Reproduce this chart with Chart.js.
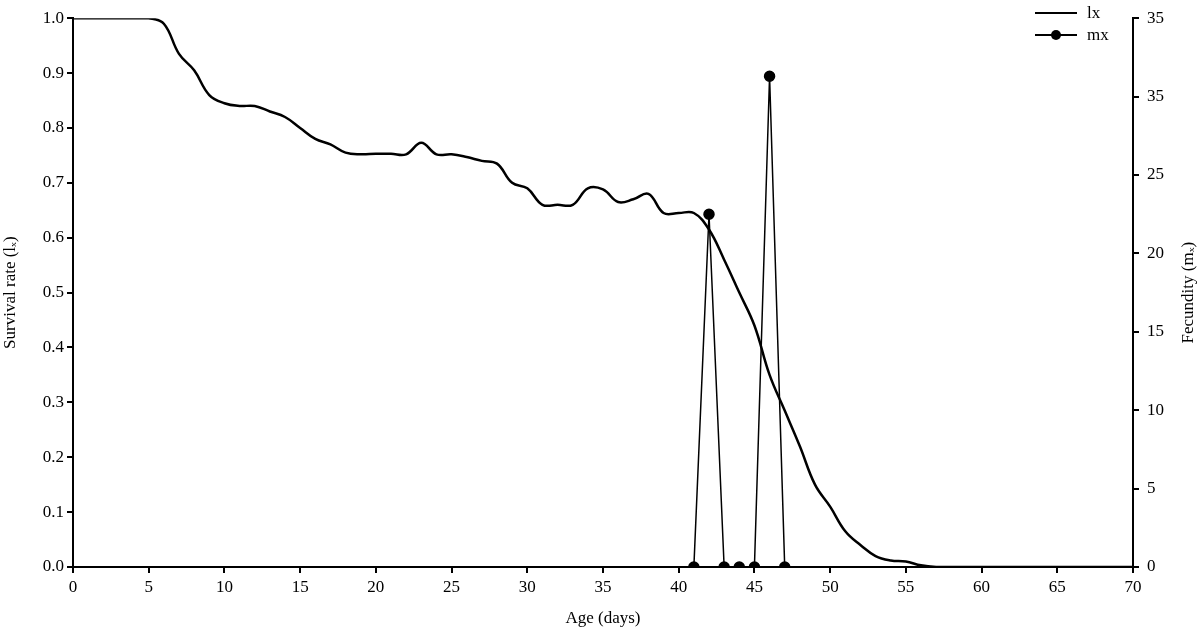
<!DOCTYPE html>
<html>
<head>
<meta charset="utf-8">
<script src="https://cdn.jsdelivr.net/npm/chart.js@4"></script>
<style>
  html, body { margin: 0; padding: 0; background: #fff; }
  #wrap { position: relative; width: 1200px; height: 633px; }
  .legend { position: absolute; left: 1035px; top: 2px; font: 17px "Liberation Serif", serif; color: #000; }
  .legend div { height: 22px; display: flex; align-items: center; }
  .legend span.l { display: inline-block; width: 42px; height: 2.5px; background: #000; margin-right: 10px; position: relative; }
  .legend span.l i { position: absolute; left: 16px; top: -4px; width: 10px; height: 10px; border-radius: 50%; background: #000; }
</style>
</head>
<body>
<div id="wrap">
  <canvas id="c" width="1200" height="633"></canvas>
  <div class="legend">
    <div><span class="l"></span>lx</div>
    <div><span class="l" style="height:1.5px"><i></i></span>mx</div>
  </div>
</div>
<script>
// ---------- data ----------
var ageDays = [];
for (var d = 0; d <= 70; d++) ageDays.push(d);

var lxValues = [
  1.0, 1.0, 1.0, 1.0, 1.0, 1.0, 0.99, 0.935, 0.905, 0.86,
  0.845, 0.84, 0.84, 0.83, 0.82, 0.80, 0.78, 0.77, 0.755, 0.752,
  0.753, 0.753, 0.752, 0.773, 0.752, 0.752, 0.747, 0.74, 0.735, 0.70,
  0.69, 0.66, 0.66, 0.66, 0.69, 0.688, 0.665, 0.67, 0.68, 0.645,
  0.645, 0.645, 0.615, 0.56, 0.50, 0.44, 0.35, 0.285, 0.22, 0.15,
  0.11, 0.065, 0.04, 0.02, 0.012, 0.01, 0.003, 0, 0, 0,
  0, 0, 0, 0, 0, 0, 0, 0, 0, 0, 0
];

var mxAges = [41, 42, 43, 44, 45, 46, 47];
var mxValues = [0, 22.5, 0, 0, 0, 31.3, 0];

// right axis labels as printed on the original (0..35 step 5)
var rightTickLabels = ['0', '5', '10', '15', '20', '25', '35', '35'];

var FONT = { family: '"Liberation Serif", "Times New Roman", serif', size: 17 };

var rightTitle = {
  id: 'rightTitle',
  afterDraw: function (chart) {
    var ctx = chart.ctx, a = chart.chartArea;
    ctx.save();
    ctx.font = '17px ' + FONT.family;
    ctx.fillStyle = '#000';
    ctx.textAlign = 'center';
    ctx.textBaseline = 'middle';
    ctx.translate(1189, (a.top + a.bottom) / 2);
    ctx.rotate(-Math.PI / 2);
    ctx.fillText('Fecundity (m\u2093)', 0, 0);
    ctx.restore();
  }
};

var axisLine = { color: '#000', width: 2 };
var tickGrid = { drawOnChartArea: false, tickLength: 6, color: '#000', lineWidth: 2 };

new Chart(document.getElementById('c'), {
  type: 'line',
  data: {
    datasets: [{
      label: 'lx',
      data: ageDays.map(function (a, i) { return { x: a, y: lxValues[i] }; }),
      borderColor: '#000',
      borderWidth: 2.5,
      pointRadius: 0,
      tension: 0.4,
      yAxisID: 'y'
    }, {
      label: 'mx',
      data: mxAges.map(function (a, i) { return { x: a, y: mxValues[i] }; }),
      borderColor: '#000',
      backgroundColor: '#000',
      borderWidth: 1.5,
      pointRadius: 5,
      tension: 0,
      yAxisID: 'y2'
    }]
  },
  options: {
    responsive: false,
    animation: false,
    layout: { padding: { top: 5, bottom: 0 } },
    plugins: { legend: { display: false }, tooltip: { enabled: false } },
    scales: {
      x: {
        type: 'linear', min: 0, max: 70,
        ticks: { stepSize: 5, color: '#000', font: FONT, maxRotation: 0, padding: 4 },
        grid: tickGrid, border: axisLine,
        title: { display: true, text: 'Age (days)', color: '#000', font: FONT, padding: { top: 2 } },
        afterFit: function (s) { s.height = 66; }
      },
      y: {
        position: 'left', min: 0, max: 1,
        ticks: { stepSize: 0.1, color: '#000', font: FONT, callback: function (v) { return v.toFixed(1); } },
        grid: tickGrid, border: axisLine,
        title: { display: true, text: 'Survival rate (l\u2093)', color: '#000', font: FONT, padding: 0 },
        afterFit: function (s) { s.width = 73; }
      },
      y2: {
        position: 'right', min: 0, max: 35,
        ticks: { stepSize: 5, color: '#000', font: FONT, padding: 8,
          callback: function (v, i) { return rightTickLabels[i]; } },
        grid: tickGrid, border: axisLine,
        afterFit: function (s) { s.width = 67; }
      }
    }
  },
  plugins: [rightTitle]
});
</script>
</body>
</html>
